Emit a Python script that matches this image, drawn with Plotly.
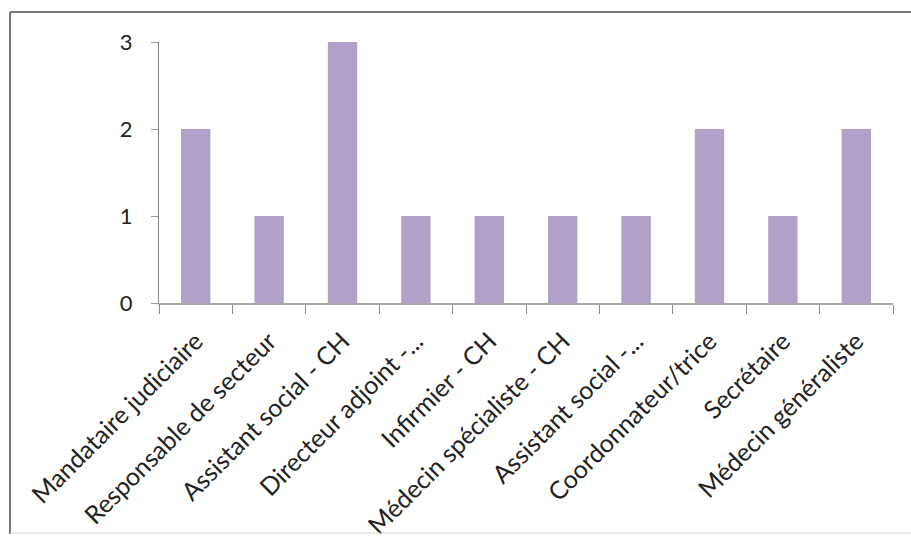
import plotly.graph_objects as go

categories = ["Mandataire judiciaire", "Responsable de secteur", "Assistant social - CH",
              "Directeur adjoint -...", "Infirmier - CH", "Médecin spécialiste - CH",
              "Assistant social -...", "Coordonnateur/trice", "Secrétaire", "Médecin généraliste"]
values = [2, 1, 3, 1, 1, 1, 1, 2, 1, 2]
y_ticks = [0, 1, 2, 3]

W, H = 911, 542
L, R, T, B = 159, 18, 42, 239
PW, PH = W - L - R, H - T - B

def px(x):
    return (x - L) / PW

def py(y):
    return (H - B - y) / PH

fig = go.Figure(go.Bar(x=categories, y=values, marker=dict(color="#B1A0C7", line=dict(width=0))))

fig.update_layout(
    width=W, height=H,
    margin=dict(l=L, r=R, t=T, b=B, autoexpand=False),
    paper_bgcolor="white", plot_bgcolor="white",
    bargap=0.6, showlegend=False,
    font=dict(family="Lato", color="#222222", size=21),
)
fig.update_xaxes(
    type="category", tickangle=-45, tickson="boundaries",
    ticks="outside", ticklen=9, tickcolor="#888888",
    showline=True, linecolor="#A8A8A8", linewidth=1.5,
    tickfont=dict(size=25), ticklabelstandoff=12, automargin=False,
)
fig.update_yaxes(
    range=[0, 3], tickvals=y_ticks, ticktext=[str(v) for v in y_ticks],
    ticks="outside", ticklen=7, tickcolor="#999999",
    showline=True, linecolor="#888888", linewidth=1,
    showgrid=False, zeroline=False, automargin=False,
    tickfont=dict(size=22), ticklabelstandoff=14,
)
# chart border (left, top, bottom)
fig.add_shape(type="line", xref="paper", yref="paper", x0=px(10), x1=px(911), y0=py(12), y1=py(12),
              line=dict(color="#777777", width=2))
fig.add_shape(type="line", xref="paper", yref="paper", x0=px(10), x1=px(10), y0=py(534), y1=py(12),
              line=dict(color="#777777", width=2))
fig.add_shape(type="line", xref="paper", yref="paper", x0=px(10), x1=px(911), y0=py(533), y1=py(533),
              line=dict(color="#D8D8D8", width=1))

fig.write_html("out.html", config={"displayModeBar": False},
               post_script="document.body.style.margin='0';document.body.style.padding='0';document.body.style.overflow='hidden';")
